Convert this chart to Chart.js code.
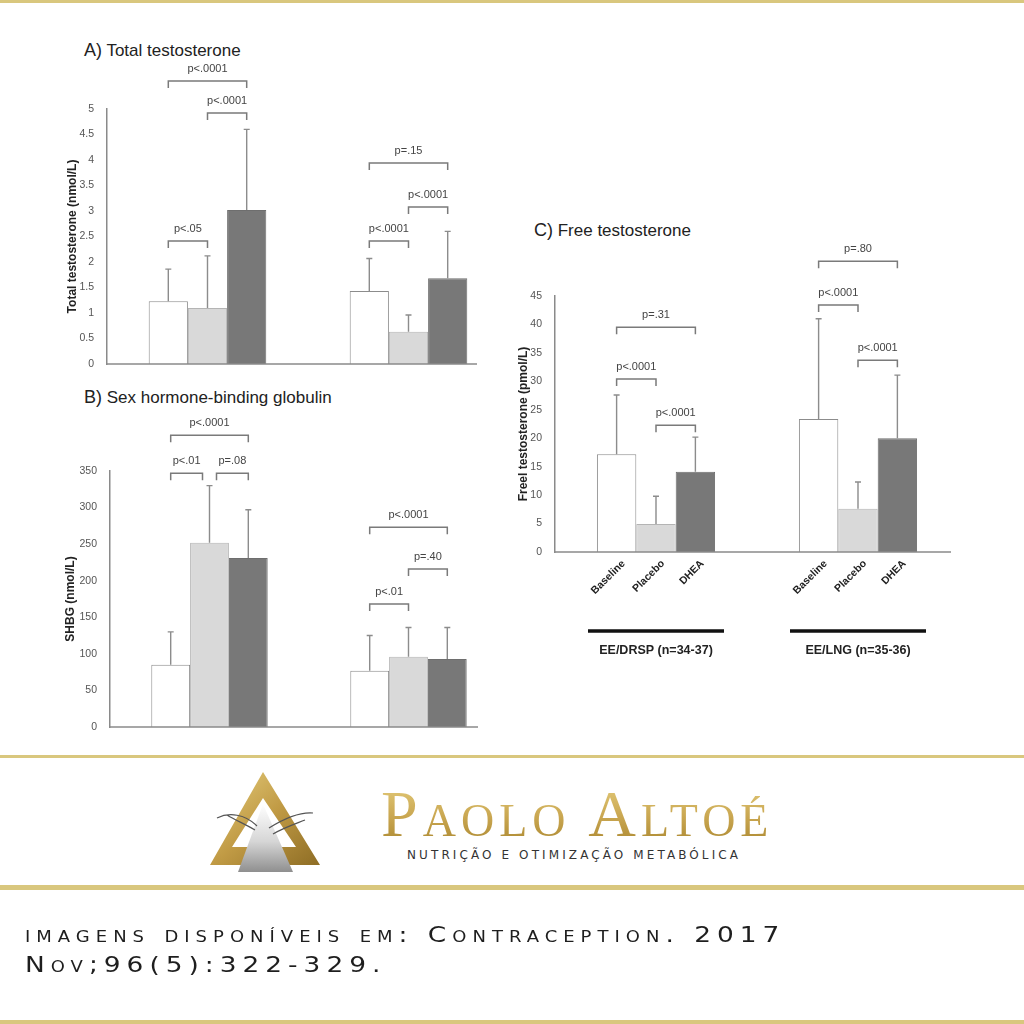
<!DOCTYPE html>
<html>
<head>
<meta charset="utf-8">
<script src="https://cdn.jsdelivr.net/npm/chart.js@4.4.1/dist/chart.umd.min.js"></script>
<style>
html, body { margin: 0; padding: 0; background: #fff; }
body { width: 1024px; height: 1024px; position: relative; overflow: hidden; font-family: Arial, "Liberation Sans", sans-serif; }
canvas { position: absolute; }
.gold { position: absolute; left: 0; width: 1024px; background: #d9c77e; }
.ptitle { position: absolute; font-size: 17px; line-height: 20px; color: #222; white-space: nowrap; }
.ptitle b { font-weight: normal; font-size: 18px; }
#brand { position: absolute; left: 381px; top: 781px; font-family: "Liberation Serif", serif; font-size: 66px; line-height: 66px;
  font-variant: small-caps; white-space: nowrap; letter-spacing: 5px;
  background: linear-gradient(180deg, #e4cc7c 0%, #c9a650 55%, #a9862f 100%); -webkit-background-clip: text; background-clip: text; color: transparent; }
#tagline { position: absolute; left: 407px; top: 847px; font-family: "DejaVu Sans", sans-serif; font-size: 12px; line-height: 16px; letter-spacing: 3.1px; color: #333; white-space: nowrap; }
#cite { position: absolute; left: 25px; top: 920px; font-family: "DejaVu Sans", sans-serif; font-size: 22px; line-height: 30px;
  font-variant: small-caps; letter-spacing: 5px; color: #1e1e1e; white-space: nowrap;
  transform: scaleX(1.2); transform-origin: 0 0; }
</style>
</head>
<body>
<div class="gold" style="top:0;height:3px"></div>
<div class="gold" style="top:755px;height:3px"></div>
<div class="gold" style="top:885px;height:5px"></div>
<div class="gold" style="top:1020px;height:4px"></div>

<div class="ptitle" style="left:84px;top:40px"><b>A)</b> Total testosterone</div>
<div class="ptitle" style="left:84px;top:387px"><b>B)</b> Sex hormone-binding globulin</div>
<div class="ptitle" style="left:534px;top:220px"><b>C)</b> Free testosterone</div>

<canvas id="chartA" width="470" height="340" style="left:55px;top:40px"></canvas>
<canvas id="chartB" width="470" height="360" style="left:55px;top:385px"></canvas>
<canvas id="chartC" width="470" height="440" style="left:505px;top:240px"></canvas>

<svg style="position:absolute;left:205px;top:768px" width="125" height="110" viewBox="0 0 125 110">
  <defs>
    <linearGradient id="g1" x1="0" y1="0" x2="1" y2="1">
      <stop offset="0" stop-color="#e6cf7f"/><stop offset="0.5" stop-color="#c19b45"/><stop offset="1" stop-color="#8e6d25"/>
    </linearGradient>
    <linearGradient id="g2" x1="0" y1="0" x2="0" y2="1">
      <stop offset="0" stop-color="#ffffff"/><stop offset="0.55" stop-color="#d6d6d6"/><stop offset="1" stop-color="#8f8f8f"/>
    </linearGradient>
  </defs>
  <path fill="url(#g1)" fill-rule="evenodd" d="M58 4 L5 97 L115 97 Z M58 30 L27 79 L91 79 Z"/>
  <path fill="url(#g2)" d="M58 36 L33 104 L88 104 Z"/>
  <path fill="none" stroke="#555" stroke-width="1.2" d="M12 50 C24 44 40 46 52 58 M22 47 C30 52 40 56 50 62 M108 45 C96 44 80 50 64 60 M100 52 C90 56 78 60 68 66"/>
</svg>
<div id="brand">Paolo Altoé</div>
<div id="tagline">NUTRIÇÃO E OTIMIZAÇÃO METABÓLICA</div>
<div id="cite">imagens disponíveis em: Contraception. 2017<br>Nov;96(5):322-329.</div>

<script>
// ---- data ----
const groups = ['EE/DRSP (n=34-37)', 'EE/LNG (n=35-36)'];
const treatments = ['Baseline', 'Placebo', 'DHEA'];

// A) Total testosterone (nmol/L): means and SD per group
const ttBaseline = [1.23, 1.43];
const ttPlacebo = [1.10, 0.63];
const ttDhea = [3.02, 1.68];
const ttBaselineSd = [0.63, 0.64];
const ttPlaceboSd = [1.02, 0.33];
const ttDheaSd = [1.58, 0.92];
const ttTicks = [0, 5, 0.5];
// [group, from, to, level, label]
const ttBrackets = [
    [0, 0, 2, 5.55, 'p<.0001'], [0, 1, 2, 4.92, 'p<.0001'], [0, 0, 1, 2.41, 'p<.05'],
    [1, 0, 2, 3.94, 'p=.15'], [1, 1, 2, 3.08, 'p<.0001'], [1, 0, 1, 2.41, 'p<.0001']
];

// B) SHBG (nmol/L)
const shbgBaseline = [85, 77];
const shbgPlacebo = [252, 96];
const shbgDhea = [231, 93];
const shbgBaselineSd = [45, 48];
const shbgPlaceboSd = [78, 40];
const shbgDheaSd = [66, 43];
const shbgTicks = [0, 350, 50];
const shbgBrackets = [
    [0, 0, 2, 399, 'p<.0001'], [0, 0, 1, 347, 'p<.01'], [0, 1, 2, 347, 'p=.08'],
    [1, 0, 2, 273, 'p<.0001'], [1, 1, 2, 216, 'p=.40'], [1, 0, 1, 168, 'p<.01']
];

// C) Free testosterone (pmol/L)
const ftBaseline = [17.2, 23.4];
const ftPlacebo = [4.9, 7.6];
const ftDhea = [14.1, 20.0];
const ftBaselineSd = [10.4, 17.6];
const ftPlaceboSd = [4.9, 4.7];
const ftDheaSd = [6.1, 11.1];
const ftTicks = [0, 45, 5];
const ftBrackets = [
    [0, 0, 2, 39.5, 'p=.31'], [0, 0, 1, 30.4, 'p<.0001'], [0, 1, 2, 22.3, 'p<.0001'],
    [1, 0, 2, 51.1, 'p=.80'], [1, 0, 1, 43.4, 'p<.0001'], [1, 1, 2, 33.7, 'p<.0001']
];

// bar styles per treatment
const barFill = ['#ffffff', '#d9d9d9', '#787878'];
const barEdge = ['#8c8c8c', '#b4b4b4', '#6e6e6e'];

// Error bars, significance brackets, baseline and group labels
const annotations = {
    id: 'annotations',
    afterDraw(chart, args, o) {
        const ctx = chart.ctx, area = chart.chartArea, y = chart.scales.y, x = chart.scales.x;
        ctx.save();

        // x axis line
        ctx.strokeStyle = '#8a8a8a';
        ctx.lineWidth = 1.5;
        ctx.beginPath();
        ctx.moveTo(area.left, area.bottom);
        ctx.lineTo(area.left + o.axisLen, area.bottom);
        ctx.stroke();

        // error bars (upper whisker only)
        ctx.strokeStyle = '#8c8c8c';
        ctx.lineWidth = 1.4;
        chart.data.datasets.forEach((ds, i) => {
            chart.getDatasetMeta(i).data.forEach((bar, j) => {
                const top = y.getPixelForValue(ds.data[j] + ds.sd[j]);
                ctx.beginPath();
                ctx.moveTo(bar.x, bar.y);
                ctx.lineTo(bar.x, top);
                ctx.moveTo(bar.x - 3, top);
                ctx.lineTo(bar.x + 3, top);
                ctx.stroke();
            });
        });

        // significance brackets
        const barX = (g, t) => chart.getDatasetMeta(t).data[g].x;
        ctx.strokeStyle = '#7a7a7a';
        ctx.lineWidth = 1.5;
        ctx.fillStyle = '#444';
        ctx.font = '11px Arial';
        ctx.textAlign = 'center';
        ctx.textBaseline = 'middle';
        o.brackets.forEach(b => {
            const [g, from, to, level, label] = b;
            let x1 = barX(g, from), x2 = barX(g, to);
            o.brackets.forEach(other => {
                if (other === b || other[0] !== g || other[3] !== level) return;
                if (other[1] === to) x2 -= 7;
                if (other[2] === from) x1 += 7;
            });
            const py = y.getPixelForValue(level);
            ctx.beginPath();
            ctx.moveTo(x1, py + 7);
            ctx.lineTo(x1, py);
            ctx.lineTo(x2, py);
            ctx.lineTo(x2, py + 7);
            ctx.stroke();
            ctx.fillText(label, (x1 + x2) / 2, py - 12);
        });

        // treatment names and group bars under the axis
        if (o.xLabels) {
            ctx.fillStyle = '#222';
            ctx.font = 'bold 10.5px Arial';
            ctx.textAlign = 'right';
            chart.data.datasets.forEach((ds, i) => {
                chart.getDatasetMeta(i).data.forEach(bar => {
                    ctx.save();
                    ctx.translate(bar.x + 7, area.bottom + 10);
                    ctx.rotate(-Math.PI / 4);
                    ctx.fillText(ds.label, 0, 0);
                    ctx.restore();
                });
            });
            ctx.strokeStyle = '#111';
            ctx.lineWidth = 3.5;
            ctx.font = 'bold 12.5px Arial';
            ctx.textAlign = 'center';
            chart.data.labels.forEach((lab, j) => {
                const cx = x.getPixelForValue(j);
                ctx.beginPath();
                ctx.moveTo(cx - 68, area.bottom + 79);
                ctx.lineTo(cx + 68, area.bottom + 79);
                ctx.stroke();
                ctx.fillText(lab, cx, area.bottom + 99);
            });
        }
        ctx.restore();
    }
};

function makeDatasets(means, sds) {
    return treatments.map((t, i) => ({
        label: t,
        data: means[i],
        sd: sds[i],
        backgroundColor: barFill[i],
        borderColor: barEdge[i],
        borderWidth: 1,
        barPercentage: 1,
        categoryPercentage: 0.585
    }));
}

function makeChart(id, means, sds, ticks, yTitle, brackets, layout) {
    return new Chart(document.getElementById(id), {
        type: 'bar',
        data: { labels: groups, datasets: makeDatasets(means, sds) },
        options: {
            responsive: false,
            animation: false,
            devicePixelRatio: 1,
            layout: { padding: layout.padding },
            plugins: {
                legend: { display: false },
                tooltip: { enabled: false },
                annotations: { brackets: brackets, axisLen: layout.axisLen, xLabels: layout.xLabels }
            },
            scales: {
                x: { display: false },
                y: {
                    min: ticks[0],
                    max: ticks[1],
                    ticks: {
                        stepSize: ticks[2],
                        color: '#555',
                        padding: 5,
                        font: { family: 'Arial', size: 10.5 },
                        callback: v => String(+v.toFixed(2))
                    },
                    grid: { display: false },
                    border: { display: true, color: '#8a8a8a', width: 1.5 },
                    title: {
                        display: true,
                        text: yTitle,
                        color: '#222',
                        font: { family: 'Arial', size: 12, weight: 'bold' },
                        padding: { top: layout.titlePad, bottom: 0 }
                    },
                    afterFit(scale) { scale.width = layout.axisWidth; }
                }
            }
        },
        plugins: [annotations]
    });
}

Chart.defaults.font.family = 'Arial';

makeChart('chartA',
    [ttBaseline, ttPlacebo, ttDhea], [ttBaselineSd, ttPlaceboSd, ttDheaSd],
    ttTicks, 'Total testosterone (nmol/L)', ttBrackets,
    { padding: { top: 69, bottom: 16, left: 0, right: 16 }, axisWidth: 52, titlePad: 10, axisLen: 370, xLabels: false });

makeChart('chartB',
    [shbgBaseline, shbgPlacebo, shbgDhea], [shbgBaselineSd, shbgPlaceboSd, shbgDheaSd],
    shbgTicks, 'SHBG (nmol/L)', shbgBrackets,
    { padding: { top: 86, bottom: 18, left: 0, right: 17 }, axisWidth: 55, titlePad: 8, axisLen: 368, xLabels: false });

makeChart('chartC',
    [ftBaseline, ftPlacebo, ftDhea], [ftBaselineSd, ftPlaceboSd, ftDheaSd],
    ftTicks, 'Freel testosterone (pmol/L)', ftBrackets,
    { padding: { top: 56, bottom: 128, left: 0, right: 16 }, axisWidth: 50, titlePad: 11, axisLen: 396, xLabels: true });
</script>
</body>
</html>
